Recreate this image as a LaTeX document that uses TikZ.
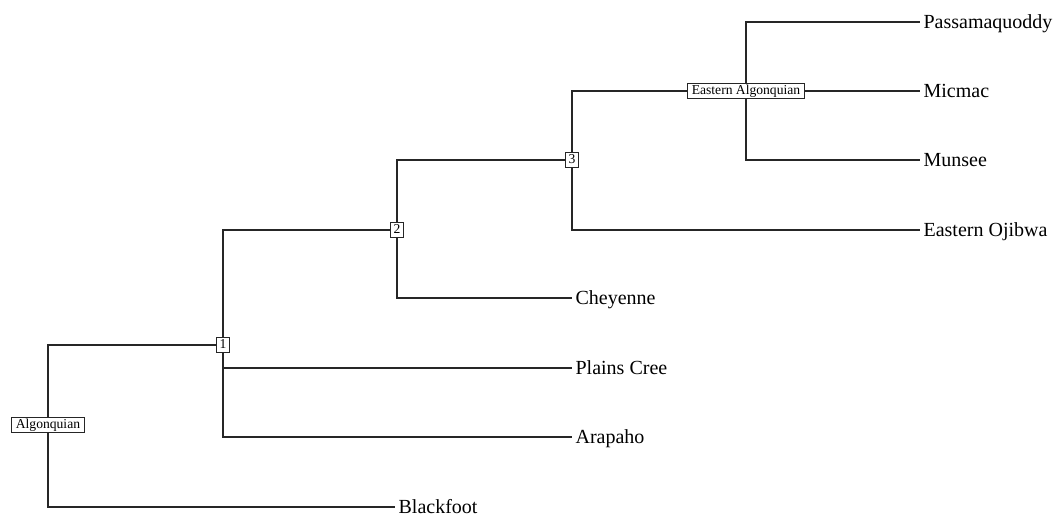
\documentclass[tikz,border=0pt]{standalone}
\usepackage{fontspec}
\setmainfont{Liberation Serif}
\begin{document}
\begin{tikzpicture}[x=0.5pt,y=-0.5pt,
  edge/.style={draw=black!85,line width=0.7pt},
  leaf/.style={anchor=west,inner xsep=1.6pt,inner ysep=0pt,font=\fontsize{10}{12}\selectfont,text height=6.6pt,text depth=0pt},
  clade/.style={draw=black!85,fill=white,line width=0.5pt,inner xsep=2pt,inner ysep=0.6pt,font=\fontsize{6.8}{8}\selectfont,text height=4.8pt,text depth=1.5pt},
  num/.style={clade,inner xsep=0pt,minimum width=6.6pt}]
\useasboundingbox (0,0) rectangle (1056,518);
% internal nodes
\node[clade] (alg) at (48,425) {Algonquian};
\node[num] (n1) at (223,345) {1};
\node[num] (n2) at (397,230) {2};
\node[num] (n3) at (572,160) {3};
\node[clade] (ea) at (746,91) {Eastern Algonquian};
% leaves
\node[leaf] (passa) at (920,22) {Passamaquoddy};
\node[leaf] (micmac) at (920,91) {Micmac};
\node[leaf] (munsee) at (920,160) {Munsee};
\node[leaf] (ojibwa) at (920,230) {Eastern Ojibwa};
\node[leaf] (chey) at (572,298) {Cheyenne};
\node[leaf] (cree) at (572,368) {Plains Cree};
\node[leaf] (arap) at (572,437) {Arapaho};
\node[leaf] (black) at (395,507) {Blackfoot};
% connectors
\draw[edge] (alg.north) |- (n1.west);
\draw[edge] (alg.south) |- (black.west);
\draw[edge] (n1.north) |- (n2.west);
\draw[edge] (n1.south) |- (cree.west);
\draw[edge] (n1.south) |- (arap.west);
\draw[edge] (n2.north) |- (n3.west);
\draw[edge] (n2.south) |- (chey.west);
\draw[edge] (n3.north) |- (ea.west);
\draw[edge] (n3.south) |- (ojibwa.west);
\draw[edge] (ea.north) |- (passa.west);
\draw[edge] (ea.east) -- (ea.east -| micmac.west);
\draw[edge] (ea.south) |- (munsee.west);
\end{tikzpicture}
\end{document}
